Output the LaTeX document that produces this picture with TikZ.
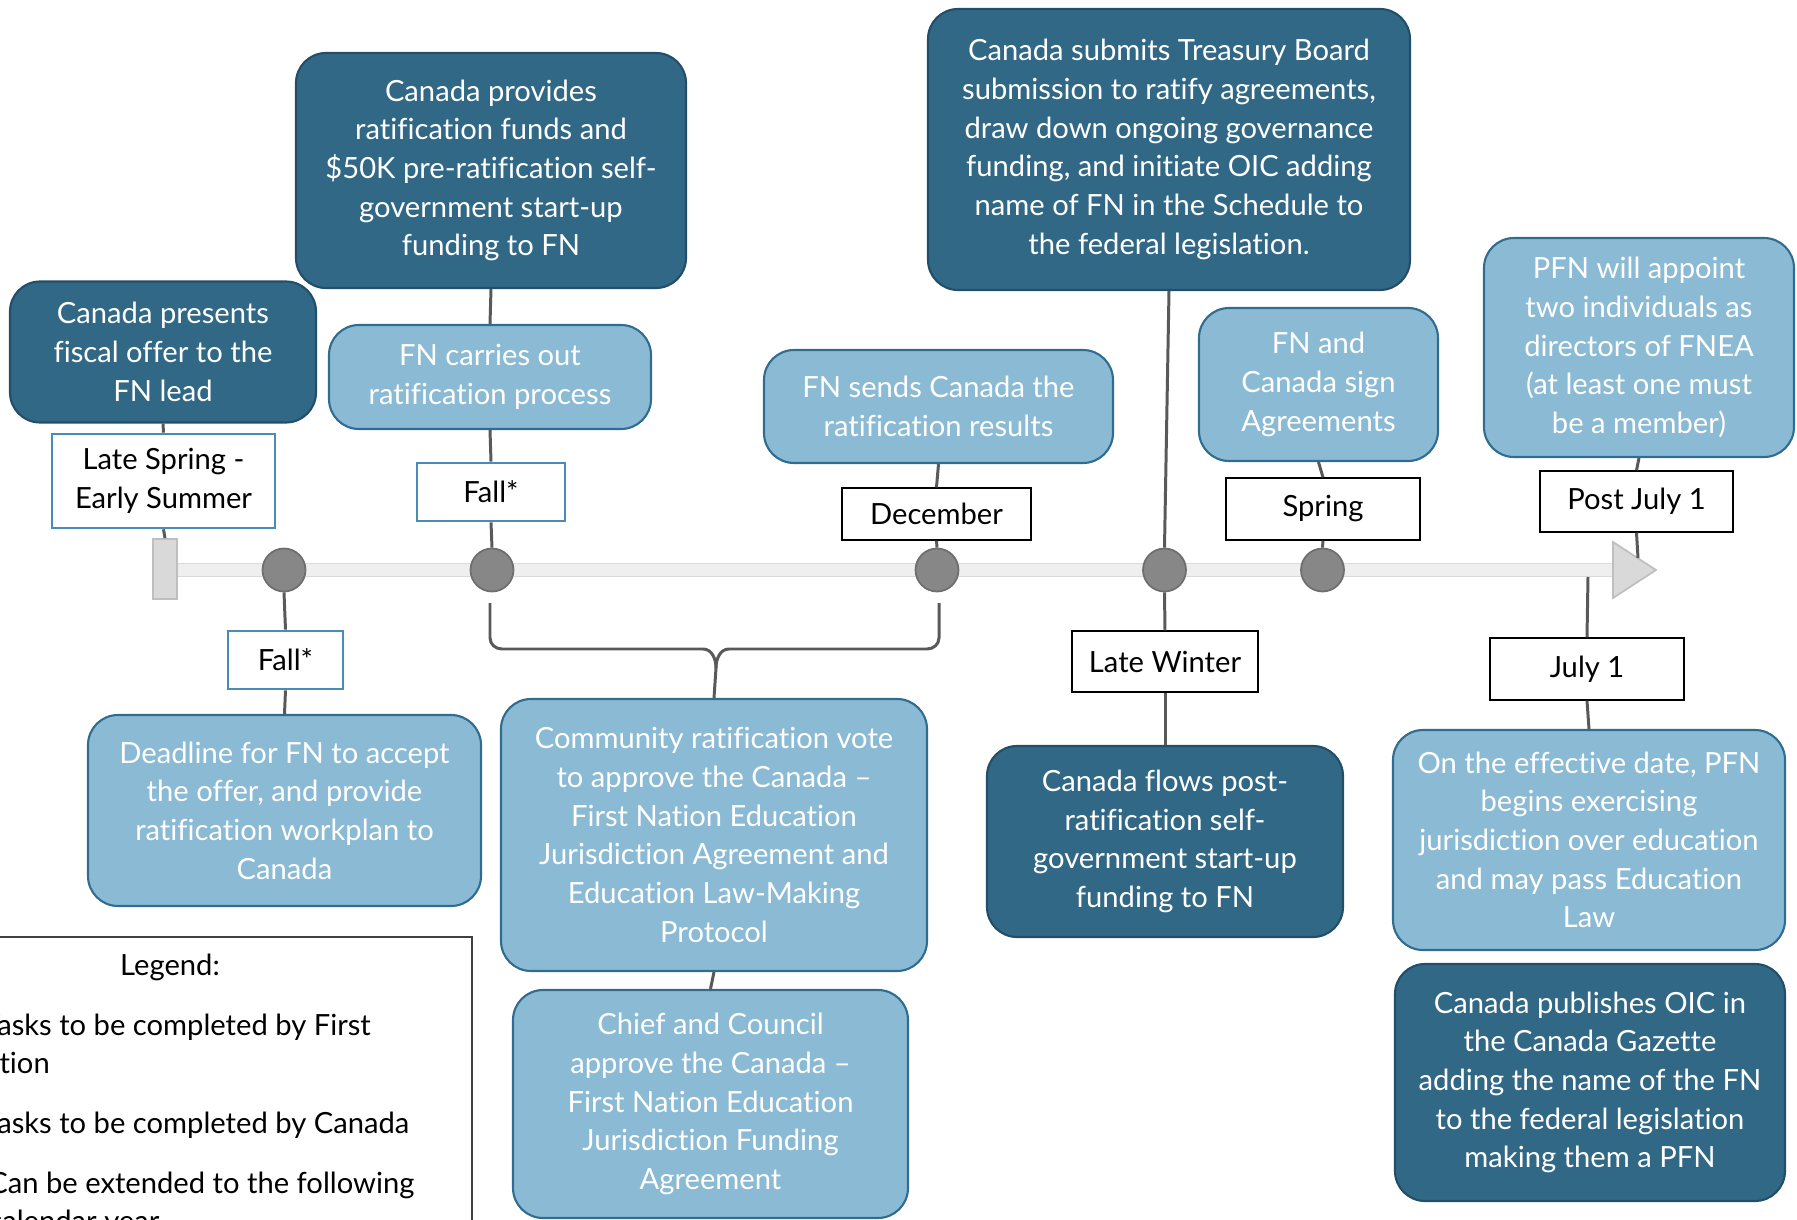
\documentclass[tikz,border=0pt]{standalone}
\usepackage{fontspec}
\setmainfont{Lato}[Ligatures=NoCommon]
\usetikzlibrary{calc}

\definecolor{darkbox}{HTML}{316886}
\definecolor{darkedge}{HTML}{224E69}
\definecolor{lightbox}{HTML}{8BBAD5}
\definecolor{lightedge}{HTML}{2F6C90}
\definecolor{dateedge}{HTML}{4A8CB8}
\definecolor{connline}{HTML}{595959}
\definecolor{dotfill}{HTML}{878787}
\definecolor{dotedge}{HTML}{6E6E6E}
\definecolor{barfill}{HTML}{EFEFEF}
\definecolor{baredge}{HTML}{DADADA}
\definecolor{tipfill}{HTML}{D9D9D9}
\definecolor{tipedge}{HTML}{BFBFBF}

\begin{document}
\begin{tikzpicture}[x=0.2mm,y=-0.2mm,
    every node/.style={font=\fontsize{16.6}{22}\selectfont, align=center, inner sep=0pt},
    boxsize/.style 2 args={minimum width=#1*0.2mm, minimum height=#2*0.2mm},
    canada/.style={draw=darkedge, line width=1.2pt, fill=darkbox, text=white, rounded corners=6mm},
    firstnation/.style={draw=lightedge, line width=1.2pt, fill=lightbox, text=white, rounded corners=6mm},
    dateblue/.style={draw=dateedge, line width=1.5pt, fill=white},
    dateblack/.style={draw=black, line width=0.8pt, fill=white},
    conn/.style={draw=connline, line width=1.7pt},
    dot/.style={circle, draw=dotedge, line width=1pt, fill=dotfill, minimum size=8.6mm}]
    \useasboundingbox (0,0) rectangle (1797,1220);
    \clip (0,0) rectangle (1797,1220);

    % timeline
    \draw[draw=baredge, fill=barfill, line width=0.8pt] (165,563.5) rectangle (1614,576.5);
    \draw[draw=tipedge, fill=tipfill, line width=1pt] (1613,542) -- (1656,570) -- (1613,598) -- cycle;
    \node[draw=tipedge, fill=tipfill, line width=1pt, boxsize={24}{60}] (tlstart) at (165,569) {};
    \foreach \n/\x in {dotone/284, dottwo/492, dotthree/937, dotfour/1164.5, dotfive/1322.5}
    {
        \node[dot] (\n) at (\x,570) {};
    }
    \coordinate (tiptop) at (1638,558);
    \coordinate (julytick) at (1588,577);

    % above the timeline
    \node[canada, boxsize={306}{141}] (offer) at (163,352) {Canada presents\\fiscal offer to the\\FN lead};
    \node[dateblue, boxsize={223}{94}] (latespring) at (163.5,481) {Late Spring -\\Early Summer};
    \node[canada, boxsize={390}{235}] (startup) at (491,170.5) {Canada provides\\ratification funds and\\\$50K pre-ratification self-\\government start-up\\funding to FN};
    \node[firstnation, boxsize={322}{104}] (process) at (490,377) {FN carries out\\ratification process};
    \node[dateblue, boxsize={148}{58}] (fallone) at (491,492) {Fall*};
    \node[canada, boxsize={482}{281}] (treasury) at (1169,149.5) {Canada submits Treasury Board\\submission to ratify agreements,\\draw down ongoing governance\\funding, and initiate OIC adding\\name of FN in the Schedule to\\the federal legislation.};
    \node[firstnation, boxsize={349}{113}] (results) at (938.5,406.5) {FN sends Canada the\\ratification results};
    \node[dateblack, boxsize={189}{52}] (december) at (936.5,514) {December};
    \node[firstnation, boxsize={239}{153}] (sign) at (1318.5,384.5) {FN and\\Canada sign\\Agreements};
    \node[dateblack, boxsize={194}{62}] (spring) at (1323,509) {Spring};
    \node[firstnation, boxsize={310}{219}] (appoint) at (1639,347.5) {PFN will appoint\\two individuals as\\directors of FNEA\\(at least one must\\be a member)};
    \node[dateblack, boxsize={193}{61}] (postjuly) at (1636.5,501.5) {Post July 1};

    % below the timeline
    \node[dateblue, boxsize={115}{58}] (falltwo) at (285.5,660) {Fall*};
    \node[firstnation, boxsize={393}{191}] (deadline) at (284.5,810.5) {Deadline for FN to accept\\the offer, and provide\\ratification workplan to\\Canada};
    \node[firstnation, boxsize={426}{272}] (vote) at (714,835) {Community ratification vote\\to approve the Canada –\\First Nation Education\\Jurisdiction Agreement and\\Education Law-Making\\Protocol};
    \node[firstnation, boxsize={395}{228}] (chief) at (710.5,1104) {Chief and Council\\approve the Canada –\\First Nation Education\\Jurisdiction Funding\\Agreement};
    \node[dateblack, boxsize={186}{61}] (latewinter) at (1165,661.5) {Late Winter};
    \node[canada, boxsize={356}{191}] (flows) at (1165,841.5) {Canada flows post-\\ratification self-\\government start-up\\funding to FN};
    \node[dateblack, boxsize={194}{62}] (julyone) at (1587,669) {July 1};
    \node[firstnation, boxsize={392}{220}] (effective) at (1589,840) {On the effective date, PFN\\begins exercising\\jurisdiction over education\\and may pass Education\\Law};
    \node[canada, boxsize={390}{237}] (gazette) at (1590,1082.5) {Canada publishes OIC in\\the Canada Gazette\\adding the name of the FN\\to the federal legislation\\making them a PFN};

    % connectors
    \draw[conn] (offer.south) -- (latespring.north);
    \draw[conn] (latespring.south) -- (tlstart.north);
    \draw[conn] (startup.south) -- (process.north);
    \draw[conn] (process.south) -- (fallone.north);
    \draw[conn] (fallone.south) -- (dottwo.north);
    \draw[conn] (treasury.south) -- (dotfour.north);
    \draw[conn] (results.south) -- (december.north);
    \draw[conn] (december.south) -- (dotthree.north);
    \draw[conn] (sign.south) -- (spring.north);
    \draw[conn] (spring.south) -- (dotfive.north);
    \draw[conn] (appoint.south) -- (postjuly.north);
    \draw[conn] (postjuly.south) -- (tiptop);
    \draw[conn] (dotone.south) -- (falltwo.north);
    \draw[conn] (falltwo.south) -- (deadline.north);
    \draw[conn] (dotfour.south) -- (latewinter.north);
    \draw[conn] (latewinter.south) -- (flows.north);
    \draw[conn] (julytick) -- (julyone.north);
    \draw[conn] (julyone.south) -- (effective.north);
    \draw[conn] (vote.south) -- (chief.north);
    % brace joining the two ratification dots
    \draw[conn] (490,603) -- (490,638) to[out=-90,in=180] (502,649) -- (703,649)
        to[out=0,in=90] (716,668) -- (vote.north);
    \draw[conn] (939,603) -- (939,638) to[out=-90,in=0] (927,649) -- (729,649)
        to[out=180,in=90] (716,668);

    % legend
    \draw[draw=black!75, line width=0.8pt] (-20,937) rectangle (472,1240);
    \node (legendtitle) at (170,967) {Legend:};
    \node[anchor=base west] (legfn) at (-17,1035) {Tasks to be completed by First};
    \node[anchor=base west] (legfnb) at (-37,1073) {Nation};
    \node[anchor=base west] (legcan) at (-17,1133) {Tasks to be completed by Canada};
    \node[anchor=base west] (legext) at (-12,1193) {Can be extended to the following};
    \node[anchor=base west] (legextb) at (-12,1231) {calendar year};
\end{tikzpicture}
\end{document}
